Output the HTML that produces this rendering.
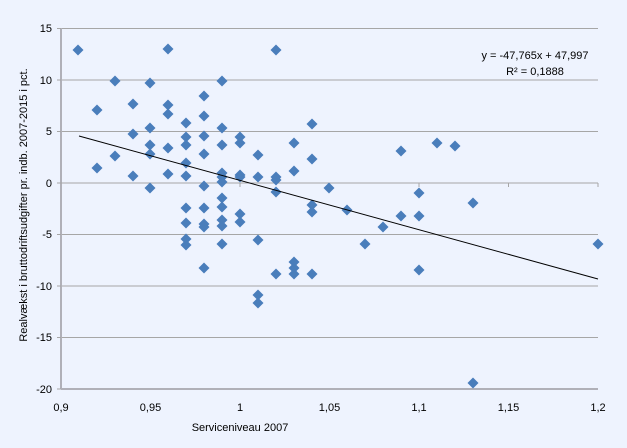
<!DOCTYPE html>
<html><head><meta charset="utf-8"><style>
html,body{margin:0;padding:0;background:#eef3fe;}
svg{display:block;font-family:"Liberation Sans",sans-serif;}
</style></head><body>
<svg width="627" height="448" viewBox="0 0 627 448">
<rect width="627" height="448" fill="#eef3fe"/>
<g stroke="#a6a6a6" stroke-width="1">
<line x1="61" y1="28.5" x2="598" y2="28.5"/>
<line x1="61" y1="80" x2="598" y2="80"/>
<line x1="61" y1="131.5" x2="598" y2="131.5"/>
<line x1="61" y1="234.5" x2="598" y2="234.5"/>
<line x1="61" y1="286" x2="598" y2="286"/>
<line x1="61" y1="337.5" x2="598" y2="337.5"/>
</g>
<g stroke="#b0b0b8" stroke-width="2">
<line x1="61" y1="389" x2="598" y2="389"/>
<line x1="61" y1="28" x2="61" y2="389"/>
</g>
<g stroke="#a6a6a6" stroke-width="1">
<line x1="61" y1="183" x2="598" y2="183"/>
<line x1="57" y1="28.5" x2="61" y2="28.5"/><line x1="57" y1="80" x2="61" y2="80"/><line x1="57" y1="131.5" x2="61" y2="131.5"/><line x1="57" y1="183" x2="61" y2="183"/><line x1="57" y1="234.5" x2="61" y2="234.5"/><line x1="57" y1="286" x2="61" y2="286"/><line x1="57" y1="337.5" x2="61" y2="337.5"/><line x1="57" y1="389" x2="61" y2="389"/>
<line x1="150.5" y1="183" x2="150.5" y2="187"/><line x1="240" y1="183" x2="240" y2="187"/><line x1="329.5" y1="183" x2="329.5" y2="187"/><line x1="419" y1="183" x2="419" y2="187"/><line x1="508.5" y1="183" x2="508.5" y2="187"/><line x1="598" y1="183" x2="598" y2="187"/>
</g>
<g fill="#000" font-size="11" text-anchor="end">
<text x="52" y="32">15</text><text x="52" y="84">10</text><text x="52" y="135">5</text><text x="52" y="187">0</text><text x="52" y="238">-5</text><text x="52" y="290">-10</text><text x="52" y="341">-15</text><text x="52" y="393">-20</text>
</g>
<g fill="#000" font-size="11" text-anchor="middle">
<text x="61" y="411">0,9</text><text x="150.5" y="411">0,95</text><text x="240" y="411">1</text><text x="329.5" y="411">1,05</text><text x="419" y="411">1,1</text><text x="508.5" y="411">1,15</text><text x="598" y="411">1,2</text>
<text x="240" y="431">Serviceniveau 2007</text>
<text transform="translate(27,205) rotate(-90)">Realvækst i bruttodriftsudgifter pr. indb. 2007-2015 i pct.</text>
<text x="535" y="59">y = -47,765x + 47,997</text>
<text x="535" y="75">R² = 0,1888</text>
</g>
<defs><path id="d" d="M0,-5.5L5.5,0L0,5.5L-5.5,0Z" fill="#4a7ebb"/></defs>
<g>
<use href="#d" x="78" y="50"/><use href="#d" x="168" y="49"/><use href="#d" x="276" y="50"/>
<use href="#d" x="115" y="81"/><use href="#d" x="150" y="83"/><use href="#d" x="222" y="81"/>
<use href="#d" x="97" y="110"/><use href="#d" x="133" y="104"/><use href="#d" x="168" y="105"/><use href="#d" x="204" y="96"/><use href="#d" x="168" y="114"/><use href="#d" x="204" y="116"/><use href="#d" x="186" y="123"/><use href="#d" x="312" y="124"/><use href="#d" x="150" y="128"/><use href="#d" x="222" y="128"/>
<use href="#d" x="133" y="134"/><use href="#d" x="186" y="137"/><use href="#d" x="204" y="136"/><use href="#d" x="240" y="137"/><use href="#d" x="240" y="143"/><use href="#d" x="294" y="143"/><use href="#d" x="150" y="145"/><use href="#d" x="186" y="145"/><use href="#d" x="222" y="145"/><use href="#d" x="168" y="148"/><use href="#d" x="150" y="154"/><use href="#d" x="204" y="154"/><use href="#d" x="258" y="155"/><use href="#d" x="115" y="156"/><use href="#d" x="312" y="159"/><use href="#d" x="186" y="163"/><use href="#d" x="97" y="168"/><use href="#d" x="294" y="171"/>
<use href="#d" x="133" y="176"/><use href="#d" x="168" y="174"/><use href="#d" x="186" y="176"/><use href="#d" x="222" y="173"/><use href="#d" x="222" y="177"/><use href="#d" x="240" y="175"/><use href="#d" x="258" y="177"/><use href="#d" x="276" y="177"/><use href="#d" x="276" y="180"/><use href="#d" x="222" y="182"/><use href="#d" x="240" y="177"/><use href="#d" x="150" y="188"/><use href="#d" x="204" y="186"/><use href="#d" x="329" y="188"/><use href="#d" x="276" y="192"/><use href="#d" x="312" y="205"/><use href="#d" x="312" y="212"/><use href="#d" x="347" y="210"/><use href="#d" x="186" y="208"/><use href="#d" x="204" y="208"/><use href="#d" x="222" y="207"/><use href="#d" x="222" y="198"/><use href="#d" x="240" y="214"/>
<use href="#d" x="186" y="223"/><use href="#d" x="204" y="224"/><use href="#d" x="204" y="227"/><use href="#d" x="222" y="220"/><use href="#d" x="222" y="226"/><use href="#d" x="240" y="222"/><use href="#d" x="186" y="239"/><use href="#d" x="186" y="245"/><use href="#d" x="222" y="244"/><use href="#d" x="258" y="240"/><use href="#d" x="204" y="268"/><use href="#d" x="276" y="274"/><use href="#d" x="294" y="262"/><use href="#d" x="294" y="268"/><use href="#d" x="294" y="274"/><use href="#d" x="312" y="274"/><use href="#d" x="258" y="295"/><use href="#d" x="258" y="303"/>
<use href="#d" x="365" y="244"/><use href="#d" x="401" y="151"/><use href="#d" x="437" y="143"/><use href="#d" x="455" y="146"/><use href="#d" x="419" y="193"/><use href="#d" x="473" y="203"/><use href="#d" x="401" y="216"/><use href="#d" x="419" y="216"/><use href="#d" x="383" y="227"/><use href="#d" x="598" y="244"/><use href="#d" x="419" y="270"/><use href="#d" x="473" y="383"/>
</g>
<line x1="79" y1="136" x2="598" y2="279" stroke="#000" stroke-width="1"/>
</svg>
</body></html>
